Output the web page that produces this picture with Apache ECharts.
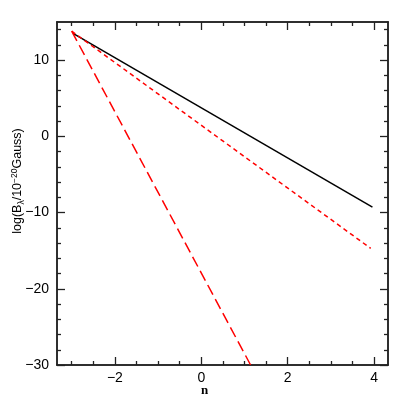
<!DOCTYPE html>
<html>
<head>
<meta charset="utf-8">
<script src="https://cdn.jsdelivr.net/npm/echarts@6/dist/echarts.min.js"></script>
<style>html,body{margin:0;padding:0;background:#fff}#c{width:409px;height:409px}</style>
</head>
<body>
<div id="c"></div>
<script>
// Data
const blackN = [-2.97, 3.96];
const blackLogB = [13.5, -9.3];
const redShortN = [-3.0, 3.92];
const redShortLogB = [13.8, -14.7];
const redLongN = [-3.0, 1.14];
const redLongLogB = [13.8, -30];

// Tick labels / tick positions
const xMajorTicks = [-2, 0, 2, 4];
const xMinorTicks = [-3, -2.5, -1.5, -1, -0.5, 0.5, 1, 1.5, 2.5, 3, 3.5];
const yMajorTicks = [-30, -20, -10, 0, 10];
const yMinorTicks = [-28, -26, -24, -22, -18, -16, -14, -12, -8, -6, -4, -2, 2, 4, 6, 8, 12, 14];

const X_MIN = -3.34, X_MAX = 4.32, Y_MIN = -30, Y_MAX = 15;

const FONT = 'Liberation Sans';
const axisCol = '#222';

function fmt(v) { return v < 0 ? '\u2212' + Math.abs(v) : String(v); }

function xAxisDef(pos, ticks, len, labels) {
  return {
    type: 'value', position: pos, min: X_MIN, max: X_MAX,
    axisLine: { show: true, onZero: false, lineStyle: { color: axisCol, width: 1.5 } },
    axisTick: { show: true, inside: true, length: len, customValues: ticks, lineStyle: { color: axisCol, width: 1.3 } },
    axisLabel: labels ? { show: true, customValues: ticks, margin: 6, color: '#000', fontFamily: FONT, fontSize: 14,
      formatter: fmt } : { show: false },
    splitLine: { show: false }, minorTick: { show: false }
  };
}
function yAxisDef(pos, ticks, len, labels) {
  return {
    type: 'value', position: pos, min: Y_MIN, max: Y_MAX,
    axisLine: { show: true, onZero: false, lineStyle: { color: axisCol, width: 1.5 } },
    axisTick: { show: true, inside: true, length: len, customValues: ticks, lineStyle: { color: axisCol, width: 1.3 } },
    axisLabel: labels ? { show: true, customValues: ticks, margin: 8, color: '#000', fontFamily: FONT, fontSize: 14,
      formatter: fmt } : { show: false },
    splitLine: { show: false }, minorTick: { show: false }
  };
}

function pairs(xs, ys) { return xs.map((x, i) => [x, ys[i]]); }

const chart = echarts.init(document.getElementById('c'), null, { renderer: 'canvas' });
chart.setOption({
  animation: false,
  backgroundColor: '#fff',
  grid: { left: 57, top: 22, right: 21, bottom: 44, containLabel: false },
  xAxis: [
    xAxisDef('bottom', xMajorTicks, 8, true),
    xAxisDef('bottom', xMinorTicks, 4, false),
    xAxisDef('top', xMajorTicks, 8, false),
    xAxisDef('top', xMinorTicks, 4, false)
  ],
  yAxis: [
    yAxisDef('left', yMajorTicks, 8, true),
    yAxisDef('left', yMinorTicks, 4, false),
    yAxisDef('right', yMajorTicks, 8, false),
    yAxisDef('right', yMinorTicks, 4, false)
  ],
  series: [
    { type: 'line', xAxisIndex: 0, yAxisIndex: 0, data: pairs(blackN, blackLogB), showSymbol: false, symbol: 'none', clip: true,
      lineStyle: { color: '#000', width: 1.5 } },
    { type: 'line', xAxisIndex: 0, yAxisIndex: 0, data: pairs(redShortN, redShortLogB), showSymbol: false, symbol: 'none', clip: true,
      lineStyle: { color: '#ff0000', width: 1.5, type: [4.5, 3.5] } },
    { type: 'line', xAxisIndex: 0, yAxisIndex: 0, data: pairs(redLongN, redLongLogB), showSymbol: false, symbol: 'none', clip: true,
      lineStyle: { color: '#ff0000', width: 1.5, type: [11, 5] } }
  ],
  graphic: [
    { type: 'text', left: 'center', top: 384,
      style: { text: 'n', font: 'bold 13px "Liberation Serif"', fill: '#000' }, x: 4 },
    { type: 'text', x: 18, y: 181, rotation: Math.PI / 2, originX: 0, originY: 0,
      style: {
        text: '{a|log(B}{s|\u03bb}{a|/10}{p|\u221220}{a|Gauss)}',
        align: 'center', verticalAlign: 'middle', fill: '#000',
        rich: {
          a: { fontFamily: FONT, fontSize: 12.5, fill: '#000', lineHeight: 18, verticalAlign: 'middle' },
          s: { fontFamily: FONT, fontSize: 8.5, fill: '#000', padding: [7, 0, 0, 0], verticalAlign: 'middle' },
          p: { fontFamily: FONT, fontSize: 8.5, fill: '#000', padding: [0, 0, 7, 0], verticalAlign: 'middle' }
        }
      }
    }
  ]
});
</script>
</body>
</html>
